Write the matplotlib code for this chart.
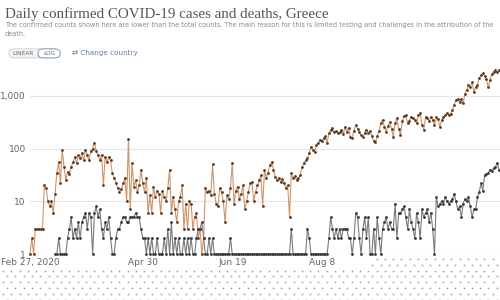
import numpy as np
import matplotlib
matplotlib.use("Agg")
import matplotlib.pyplot as plt
from matplotlib.patches import FancyBboxPatch, Rectangle

# daily values, one per day starting Feb 27, 2020
cases = [
    1, 2, 1, 3, 3, 3, 3, 3,
    20, 18, 10, 8, 10, 6,
    14, 35, 55, 22, 94, 45, 25, 36, 33, 45, 55, 70, 53, 75, 65, 83, 60, 95, 75, 60, 90, 100, 130,
    90, 75, 60, 75, 20, 70, 55, 70, 60, 34, 28, 22, 18, 15, 17, 22, 28, 10, 150, 7,
    53, 19, 25, 15, 20, 39, 22, 15, 28, 6, 13, 6, 19, 12, 16, 14, 6, 16, 12, 10, 18, 40, 6, 12, 7, 4,
    10, 12, 20, 3, 9, 3, 10, 9, 3, 5, 6, 2, 3, 1, 2, 18, 15, 16, 13, 50,
    14, 9, 8, 18, 15, 10, 4, 13, 11, 18, 53, 9, 16, 19, 11, 14, 20, 7, 10, 15,
    22, 23, 10, 15, 20, 25, 31, 8,
    39, 28, 35, 49, 56, 40, 29, 25, 28, 23, 26, 22, 18, 20, 5, 34, 28, 30, 25, 28,
    31, 45, 53, 60, 66, 83, 107, 95, 86, 117, 130, 145, 140, 158, 170, 127, 197, 226, 245, 205,
    215, 197,
    205, 230, 190, 255, 210, 250, 165, 160, 220, 280,
    240, 205, 180, 165, 200, 230, 195, 220, 170, 140,
    133, 170, 220, 300, 350, 260, 210, 270, 320, 240,
    165, 300, 380, 240, 180, 330, 420, 430, 300, 340,
    400, 380, 350, 300, 440, 470, 280, 230, 400, 380,
    330, 400, 350, 280, 390, 360, 255, 350, 400, 430,
    470, 430, 460, 540, 670, 840, 880, 780, 860, 730,
    1100, 1300, 1600, 1500, 1830, 1180, 1450, 1600, 2200, 2500,
    2700, 2400, 2100, 1460, 2000, 2600, 2900, 3100, 2800, 3100,
]

deaths = [np.nan] * 14 + [
    1, 1, 2, 1, 1, 1, 1, 2, 3, 5,
    2, 3, 2, 4, 2, 4, 5, 6, 3, 6, 5,
    1, 6, 8, 5, 7, 3, 2, 4, 3, 5, 2,
    1, 1, 2, 3, 3, 4, 5, 5, 4, 4, 5,
    5, 5, 6, 5, 5, 3, 2, 2, 1, 2, 1,
    2, 1, 1, 2, 1, 1, 1, 2, 1, 3, 1, 4, 1, 2, 1, 2, 1,
    1, 2, 1, 2, 1, 2, 1, 1,
    2, 3, 3, 4, 2, 1, 1, 2, 1,
    2, 1, 1, 1, 1, 1, 1, 1, 1, 1, 2,
] + [1] * 33 + [
    3, 1, 1, 1, 1, 1, 1, 1, 1, 3, 2, 1, 1, 1, 1, 1, 1, 1, 1, 1,
    1, 2, 5, 3, 2, 3, 2,
    3, 2, 3, 3, 3, 2, 2, 1, 2, 6,
    5, 2, 1, 3, 5, 2, 5, 1, 1, 3,
    1, 5, 2, 1, 3, 4, 5, 3, 4, 3,
    3, 9, 2, 6, 6, 7, 8, 5, 3, 7,
    4, 3, 2, 6, 4, 2, 7, 5, 6, 7,
    4, 6, 3, 1, 12, 8, 9, 10, 9, 12,
    10, 9, 10, 11, 14, 10, 7, 8, 5, 9,
    11, 10, 12, 8, 5, 7, 7, 12, 15, 22,
    16, 31, 33, 34, 40, 38, 42, 45, 53, 40,
]

tick_days = [0, 63, 113, 163]
tick_labels = ["Feb 27, 2020", "Apr 30", "Jun 19", "Aug 8"]
y_ticks = [1, 10, 100, 1000]
y_labels = ["1", "10", "100", "1,000"]

fig = plt.figure(figsize=(5, 3), dpi=100)
ax = fig.add_axes([0.06, 0.1533, 0.94, 0.64])

days = np.arange(len(cases))
ax.plot(days, cases, color="#d09469", lw=0.8, marker="o", ms=1.0,
        mfc="#5a3d28", mec="#5a3d28", clip_on=False, zorder=3)
ax.plot(np.arange(len(deaths)), deaths, color="#7a7a7a", lw=0.8, marker="o", ms=1.0,
        mfc="#3a3a3a", mec="#3a3a3a", clip_on=False, zorder=3)

ax.set_yscale("log")
ax.set_ylim(1, 4400)
ax.set_xlim(0, 262.6)
ax.set_yticks(y_ticks)
ax.set_yticklabels(y_labels)
ax.minorticks_off()
ax.set_xticks(tick_days)
ax.set_xticklabels(tick_labels)
ax.tick_params(length=0, labelsize=6.5, colors="#666666", pad=3)
ax.grid(axis="y", color="#e6e6e6", lw=0.8)
ax.set_axisbelow(True)
for s in ax.spines.values():
    s.set_visible(False)

# header
fig.text(0.01, 0.94, "Daily confirmed COVID-19 cases and deaths, Greece",
         family="Liberation Serif", fontsize=10.8, color="#555555")
fig.text(0.01, 0.91, "The confirmed counts shown here are lower than the total counts. "
         "The main reason for this is limited testing and challenges in the attribution of the",
         fontsize=4.7, color="#8a8a8a")
fig.text(0.01, 0.88, "death.", fontsize=4.7, color="#8a8a8a")

fig.add_artist(FancyBboxPatch((0.018, 0.807), 0.102, 0.03, boxstyle="round,pad=0,rounding_size=0.012",
                              transform=fig.transFigure, fc="#f4f4f4", ec="#cccccc", lw=0.6))
fig.add_artist(FancyBboxPatch((0.076, 0.807), 0.044, 0.03, boxstyle="round,pad=0,rounding_size=0.012",
                              transform=fig.transFigure, fc="white", ec="#6a8fb0", lw=0.6))
fig.text(0.046, 0.822, "LINEAR", fontsize=4.2, color="#666666", ha="center", va="center")
fig.text(0.098, 0.822, "LOG", fontsize=4.2, color="#666666", ha="center", va="center")
fig.text(0.144, 0.824, "⇄ Change country", fontsize=5.2, color="#5a7fa5", va="center")

# dotted overlay at the bottom of the screenshot
ov = fig.add_axes([0, 0, 1, 1], facecolor="none")
ov.set_xlim(0, 500)
ov.set_ylim(300, 0)
ov.axis("off")
ov.add_patch(Rectangle((0, 270), 500, 30, fc="white", ec="none", alpha=0.9))
ov.add_patch(Rectangle((370, 256), 130, 14, fc="white", ec="none", alpha=0.9))
gx, gy = np.meshgrid(np.arange(3, 500, 8.3), np.arange(259, 300, 5.8))
off = (np.round((gy - 259) / 5.8) % 2) * 4
px = (gx + off).ravel()
py = gy.ravel()
keep = (py >= 270) | (px >= 370)
ov.scatter(px[keep], py[keep], s=1.2, marker="x", lw=0.5, color="#a0a0a0")

fig.savefig("out.png", dpi=100)
